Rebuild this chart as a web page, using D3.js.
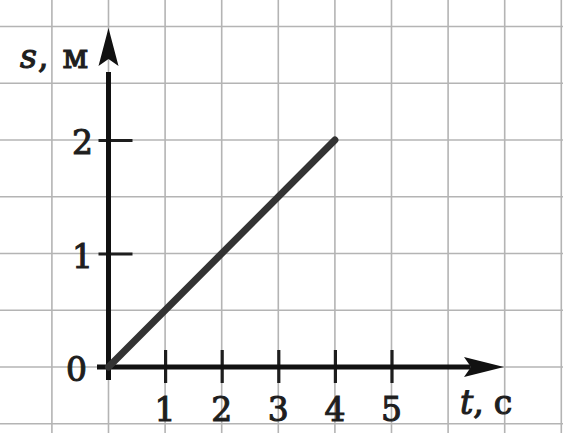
<!DOCTYPE html>
<html><head><meta charset="utf-8">
<script src="https://cdn.jsdelivr.net/npm/d3@7"></script>
<style>html,body{margin:0;padding:0;background:#fff;overflow:hidden}</style>
</head><body>
<svg id="c" width="563" height="433"></svg>
<script>
const xTicks = [1, 2, 3, 4, 5];
const yTicks = [0, 1, 2];
const tValues = [0, 4];
const sValues = [0, 2];
const xLabel = ["t", ",", "с"];
const yLabel = ["s", ",", "м"];

const svg = d3.select("#c");
const x = d3.scaleLinear().domain([0, 1]).range([108.5, 165.1]);
const y = d3.scaleLinear().domain([0, 1]).range([367, 253.5]);
const font = "DejaVu Serif";
const ink = "#1e1e1e";

// grid
const gx = d3.range(-1, 9, 1);
const gy = d3.range(-0.5, 3.01, 0.5);
svg.append("g").selectAll("line").data(gx).join("line")
  .attr("x1", d => x(d)).attr("x2", d => x(d)).attr("y1", 0).attr("y2", 433)
  .attr("stroke", "#b4b4b4").attr("stroke-width", 1.6);
svg.append("g").selectAll("line").data(gy).join("line")
  .attr("y1", d => y(d)).attr("y2", d => y(d)).attr("x1", 0).attr("x2", 563)
  .attr("stroke", "#b4b4b4").attr("stroke-width", 1.6);

// axes ticks
const ax = svg.append("g").attr("transform", `translate(0,${y(0)})`)
  .call(d3.axisBottom(x).tickValues(xTicks).tickSize(16).tickFormat(""));
ax.select(".domain").remove();
ax.selectAll(".tick line").attr("y1", -17).attr("y2", 16)
  .attr("stroke", ink).attr("stroke-width", 3.2);

const ay = svg.append("g").attr("transform", `translate(${x(0)},0)`)
  .call(d3.axisLeft(y).tickValues(yTicks.filter(d => d > 0)).tickSize(10).tickFormat(""));
ay.select(".domain").remove();
ay.selectAll(".tick line").attr("x1", -10).attr("x2", 24)
  .attr("stroke", ink).attr("stroke-width", 3.2);

// axis lines
svg.append("line").attr("x1", 97).attr("x2", x(6.4)).attr("y1", y(0)).attr("y2", y(0))
  .attr("stroke", "#111").attr("stroke-width", 5);
svg.append("line").attr("x1", x(0)).attr("x2", x(0)).attr("y1", 380).attr("y2", y(2.6))
  .attr("stroke", "#111").attr("stroke-width", 5);
// arrows
const tipX = 504, tipY = 28;
svg.append("path").attr("d", `M${tipX},${y(0)} L${tipX-40},${y(0)-10} L${tipX-33},${y(0)} L${tipX-40},${y(0)+10} Z`).attr("fill", "#111");
svg.append("path").attr("d", `M${x(0)},${tipY} L${x(0)-10},${tipY+38} L${x(0)},${tipY+31} L${x(0)+10},${tipY+38} Z`).attr("fill", "#111");

// data line
svg.append("path").datum(tValues.map((t, i) => [t, sValues[i]]))
  .attr("d", d3.line().x(d => x(d[0])).y(d => y(d[1])))
  .attr("stroke", "#333").attr("stroke-width", 7).attr("stroke-linecap", "round").attr("fill", "none");

// labels
function txt(sel) {
  return sel.attr("font-family", font).attr("font-size", 33).attr("fill", ink)
    .attr("stroke", ink).attr("stroke-width", 1.1);
}
txt(svg.append("g").selectAll("text").data(xTicks).join("text")
  .attr("x", d => x(d)).attr("y", 421).attr("text-anchor", "middle")).text(d => d);
txt(svg.append("g").selectAll("text").data(yTicks).join("text")
  .attr("x", d => d === 0 ? 87 : 93).attr("y", d => y(d) + 14).attr("text-anchor", "end")).text(d => d);

const tl = txt(svg.append("text").attr("x", 460).attr("y", 414));
tl.append("tspan").attr("font-style", "italic").text(xLabel[0]);
tl.append("tspan").text(xLabel[1]);
tl.append("tspan").attr("dx", 10).text(xLabel[2]);
const sl = txt(svg.append("text").attr("x", 20).attr("y", 68));
sl.append("tspan").attr("font-style", "italic").text(yLabel[0]);
sl.append("tspan").attr("dx", 1).text(yLabel[1]);
sl.append("tspan").attr("dx", 14).text(yLabel[2]);
</script>
</body></html>
